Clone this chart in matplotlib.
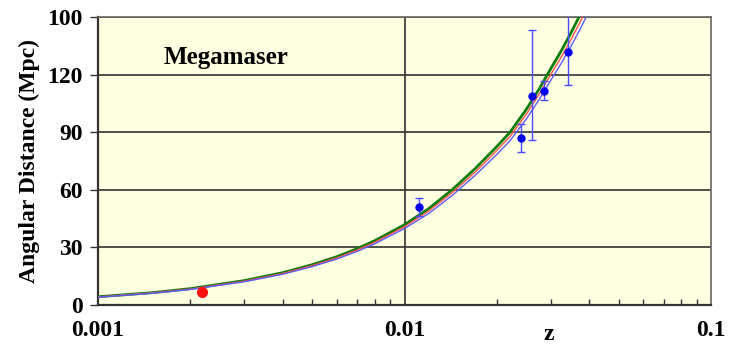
import numpy as np
import matplotlib.pyplot as plt
from matplotlib.ticker import FixedLocator, LogLocator, NullFormatter

# Model curves (angular distance in Mpc vs redshift z)
z_curve = [0.001, 0.0015, 0.002, 0.003, 0.004, 0.005, 0.006, 0.007, 0.008, 0.01,
           0.012, 0.0143, 0.017, 0.02, 0.0221, 0.025, 0.0275, 0.03, 0.0325,
           0.035, 0.0375, 0.04, 0.045]
d_green = [4.3, 6.4, 8.5, 12.7, 16.8, 21.0, 25.1, 29.3, 33.5, 41.8,
           50.2, 60.0, 71.0, 82.5, 90.0, 102.0, 112.5, 123.0, 132.5,
           142.0, 151.5, 161.0, 180.0]
d_red = [4.2, 6.3, 8.3, 12.4, 16.4, 20.5, 24.5, 28.6, 32.7, 40.8,
         49.0, 58.5, 69.2, 80.5, 87.8, 99.5, 109.8, 120.0, 129.2,
         138.5, 147.7, 157.0, 175.5]
d_blue = [4.1, 6.1, 8.1, 12.1, 16.0, 20.0, 23.9, 27.9, 31.9, 39.8,
          47.7, 57.0, 67.5, 78.4, 85.6, 97.0, 107.0, 117.0, 126.0,
          135.0, 144.0, 153.0, 171.0]

# Megamaser measurements
z_maser = [0.01114, 0.02399, 0.0260, 0.02845, 0.03406]
d_maser = [51.0, 87.0, 109.0, 111.6, 131.6]
err_low = [4.5, 7.5, 23.0, 5.0, 17.0]
err_high = [4.5, 7.5, 34.0, 5.0, 21.0]

# local point
z_local = [0.00218]
d_local = [7.0]

y_ticks = [0, 30, 60, 90, 120, 150]
y_labels = ["0", "30", "60", "90", "120", "100"]
x_ticks = [0.001, 0.01, 0.1]
x_labels = ["0.001", "0.01", "0.1"]

serif = ["Liberation Serif", "DejaVu Serif"]

fig = plt.figure(figsize=(7.32, 3.46), dpi=100)
ax = fig.add_axes([0.1339, 0.1185, 0.8374, 0.8324])
ax.set_facecolor("#fefee0")

ax.plot(z_curve, d_green, color="#0a7d0a", lw=2.0, zorder=3)
ax.plot(z_curve, d_red, color="#ff5050", lw=1.0, zorder=3)
ax.plot(z_curve, d_blue, color="#5a5aff", lw=1.0, zorder=3)

ax.errorbar(z_maser, d_maser, yerr=[err_low, err_high], fmt="o", color="#0000ee",
            ecolor="#4a4aff", elinewidth=1.0, capsize=3, capthick=1.0, ms=5, zorder=4)
ax.plot(z_local, d_local, "o", color="#ff1010", ms=7, zorder=4)

ax.set_xscale("log")
ax.set_xlim(0.001, 0.1)
ax.set_ylim(0, 150)

ax.yaxis.set_major_locator(FixedLocator(y_ticks))
ax.set_yticklabels(y_labels, fontfamily=serif, fontweight="bold", fontsize=17)
ax.xaxis.set_major_locator(FixedLocator(x_ticks))
ax.set_xticklabels(x_labels, fontfamily=serif, fontweight="bold", fontsize=17)
ax.xaxis.set_minor_locator(LogLocator(base=10, subs=np.arange(2, 10)))
ax.xaxis.set_minor_formatter(NullFormatter())

ax.tick_params(axis="y", direction="out", length=6, width=1, color="#333333", pad=5)
ax.tick_params(axis="x", which="major", length=0, pad=11)
ax.tick_params(axis="x", which="minor", direction="in", length=4, width=1, color="#333333")

for y in y_ticks[1:]:
    ax.axhline(y, color="#333333", lw=1.2, zorder=1)
ax.axvline(0.01, color="#333333", lw=1.2, zorder=1)

for side in ["left", "bottom"]:
    ax.spines[side].set_color("#333333")
    ax.spines[side].set_linewidth(1.6)
for side in ["right", "top"]:
    ax.spines[side].set_color("#666666")
    ax.spines[side].set_linewidth(1.2)

ax.set_ylabel("Angular Distance (Mpc)", fontfamily=serif, fontweight="bold",
              fontsize=17, labelpad=5)
fig.text(0.749, 0.032, "z", fontfamily=serif, fontweight="bold", fontsize=17,
         ha="center", va="center")
ax.text(0.208, 0.86, "Megamaser", transform=ax.transAxes, fontfamily=serif,
        fontweight="bold", fontsize=18, ha="center", va="center")

fig.savefig("out.png", dpi=100)
